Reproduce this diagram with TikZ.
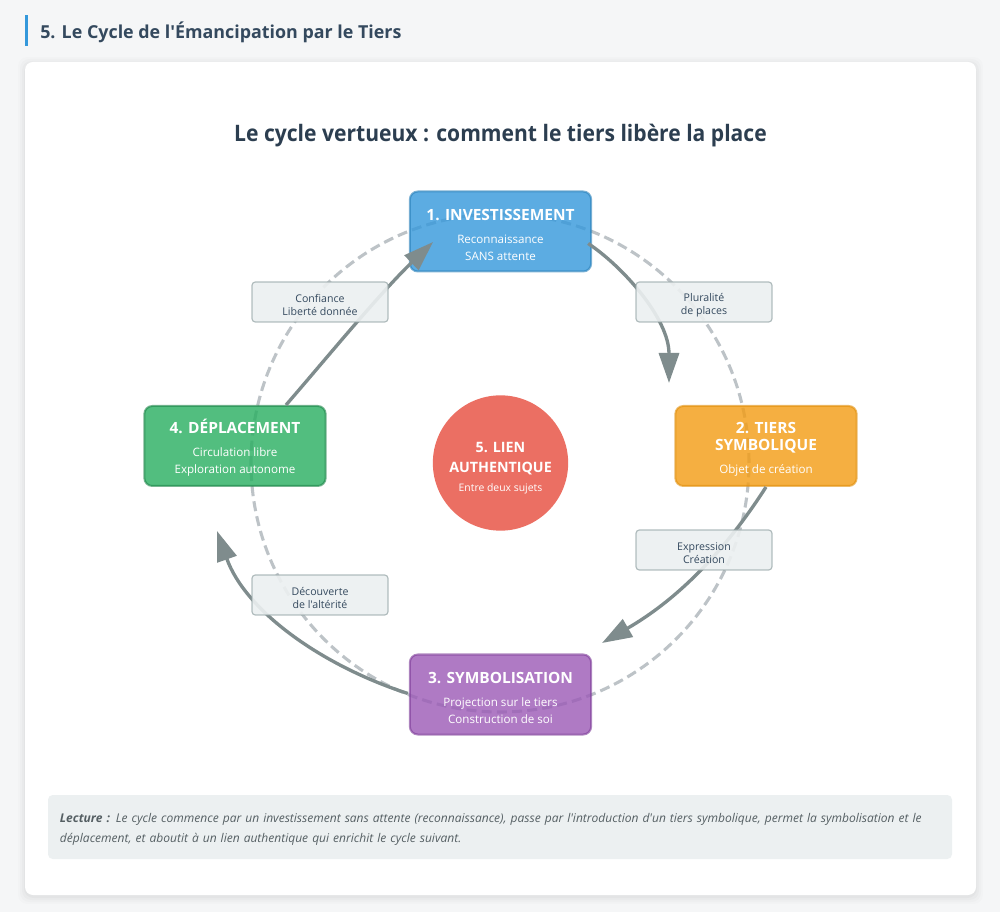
\documentclass[tikz,border=0pt]{standalone}
\usepackage{fontspec}
\usetikzlibrary{arrows.meta,shapes.geometric}
\newfontfamily\uifont{Open Sans}
\newfontfamily\uifontn[FakeStretch=.93]{Open Sans}
\definecolor{pagebg}{HTML}{F5F6F7}
\definecolor{cblue}{HTML}{3498DB}\definecolor{dblue}{HTML}{2980B9}
\definecolor{corange}{HTML}{F39C12}\definecolor{dorange}{HTML}{E08E0B}
\definecolor{cgreen}{HTML}{27AE60}\definecolor{dgreen}{HTML}{1E8449}
\definecolor{cpurple}{HTML}{9B59B6}\definecolor{dpurple}{HTML}{7D3C98}
\definecolor{cred}{HTML}{E74C3C}
\definecolor{ink}{HTML}{2C3E50}\definecolor{ink2}{HTML}{34495E}
\definecolor{lgray}{HTML}{ECF0F1}\definecolor{mgray}{HTML}{95A5A6}
\definecolor{agray}{HTML}{7F8C8D}\definecolor{dgray}{HTML}{BDC3C7}
\definecolor{readtext}{HTML}{555F63}
\newcommand\ttl[1]{{\fontsize{11.6pt}{12.8pt}\selectfont\bfseries #1}}
\newcommand\ttc[1]{{\fontsize{10.7pt}{12.8pt}\selectfont\bfseries #1}}
\tikzset{
  stagebox/.style={rectangle,rounded corners=6pt,line width=1.5pt,minimum width=136pt,minimum height=60pt,inner sep=0pt,
    fill opacity=.8,draw opacity=.6,text opacity=1,text=white,align=center,
    font=\uifont\fontsize{8.7pt}{12.75pt}\selectfont},
  edgelabel/.style={rectangle,rounded corners=2.5pt,line width=.9pt,draw=mgray,fill=lgray,minimum width=102pt,minimum height=30pt,inner sep=0pt,
    fill opacity=.9,draw opacity=.7,text opacity=1,text=ink2,align=center,
    font=\uifont\fontsize{7.95pt}{10.2pt}\selectfont},
  flow/.style={draw=agray,line width=2.5pt,-{Triangle[length=22.5pt,width=15pt]}},
}
\begin{document}
\begin{tikzpicture}[x=.75pt,y=-.75pt]
\useasboundingbox (0,0) rectangle (1000,912);
\fill[pagebg] (0,0) rectangle (1000,912);
% header
\fill[cblue] (25,15) rectangle (28,46);
\node[anchor=west,inner sep=0pt,text=ink2,font=\uifont\fontsize{13.4pt}{16pt}\selectfont\bfseries] (header) at (40,32) {5. Le Cycle de l'Émancipation par le Tiers};
% card
\foreach \g/\o in {7/.012,5/.016,3/.02,1/.025}{
  \fill[black,opacity=\o,rounded corners=7pt] (25-\g,62-\g+2) rectangle (976+\g,895+\g+2);
}
\fill[white,rounded corners=6pt] (25,62) rectangle (976,895);
\node[inner sep=0pt,text=ink,font=\uifontn\fontsize{17pt}{20pt}\selectfont\bfseries] (title) at (500.5,136) {Le cycle vertueux : comment le tiers libère la place};
% ring
\coordinate (ringc) at (500,463);
\draw[dgray,line width=2.3pt,dash pattern=on 7.5pt off 3.9pt] (ringc) circle[radius=186.75pt];
% stages
\node[stagebox,fill=cblue,draw=dblue] (s1) at (500.5,231.5) {\rule{0pt}{13.5pt}\ttl{1. INVESTISSEMENT}\\[4.4pt]Reconnaissance\\SANS attente};
\node[stagebox,fill=corange,draw=dorange] (s2) at (766,446) {\rule{0pt}{13.5pt}\ttl{2. TIERS}\\\ttl{SYMBOLIQUE}\\[4.4pt]Objet de création};
\node[stagebox,fill=cpurple,draw=dpurple] (s3) at (500.5,694.5) {\rule{0pt}{13.5pt}\ttl{3. SYMBOLISATION}\\[4.4pt]Projection sur le tiers\\Construction de soi};
\node[stagebox,fill=cgreen,draw=dgreen] (s4) at (235,446) {\rule{0pt}{13.5pt}\ttl{4. DÉPLACEMENT}\\[4.4pt]Circulation libre\\Exploration autonome};
\node[circle,fill=cred,fill opacity=.8,text opacity=1,text=white,minimum size=101.5pt,inner sep=0pt,align=center,
  font=\uifont\fontsize{7.8pt}{11pt}\selectfont] (s5) at (500.5,463) {\rule{0pt}{15.8pt}\ttc{5. LIEN}\\[4pt]\ttc{AUTHENTIQUE}\\[3.5pt]Entre deux sujets};
% free ends of the arrows
\coordinate (t12) at (669,383);
\coordinate (t23) at (602,643);
\coordinate (t34) at (217,531);
\coordinate (t41) at (433,242);
% arrows
\draw[flow] ([shift={(-4,12)}]s1.east) .. controls (622,266) and (669,318) .. (t12);
\draw[flow] (s2.south) .. controls (727,548) and (680,598) .. (t23);
\draw[flow] ([shift={(-1,-1)}]s3.west) .. controls (320,665) and (245,610) .. (t34);
\draw[flow] ([shift={(51,0)}]s4.north) .. controls (325,360) and (380,293) .. (t41);
% labels
\node[edgelabel] (e41) at (320,302) {\rule{0pt}{10.7pt}Confiance\\Liberté donnée};
\node[edgelabel] (e12) at (704,302) {\rule{0pt}{10.7pt}Pluralité\\de places};
\node[edgelabel] (e23) at (704,550) {\rule{0pt}{10.7pt}Expression\\Création};
\node[edgelabel] (e34) at (320,595) {\rule{0pt}{10.7pt}Découverte\\de l'altérité};
% reading note
\node[rectangle,rounded corners=3.5pt,fill=lgray,minimum width=678pt,minimum height=48pt,inner sep=0pt,text=readtext,
  align=left,text width=660pt,font=\uifont\fontsize{9.03pt}{15pt}\selectfont\itshape] (note) at (500,827)
  {\rule{0pt}{9.9pt}{\bfseries Lecture :} Le cycle commence par un investissement sans attente (reconnaissance), passe par l'introduction d'un tiers symbolique, permet la symbolisation et le\\déplacement, et aboutit à un lien authentique qui enrichit le cycle suivant.};
\end{tikzpicture}
\end{document}
